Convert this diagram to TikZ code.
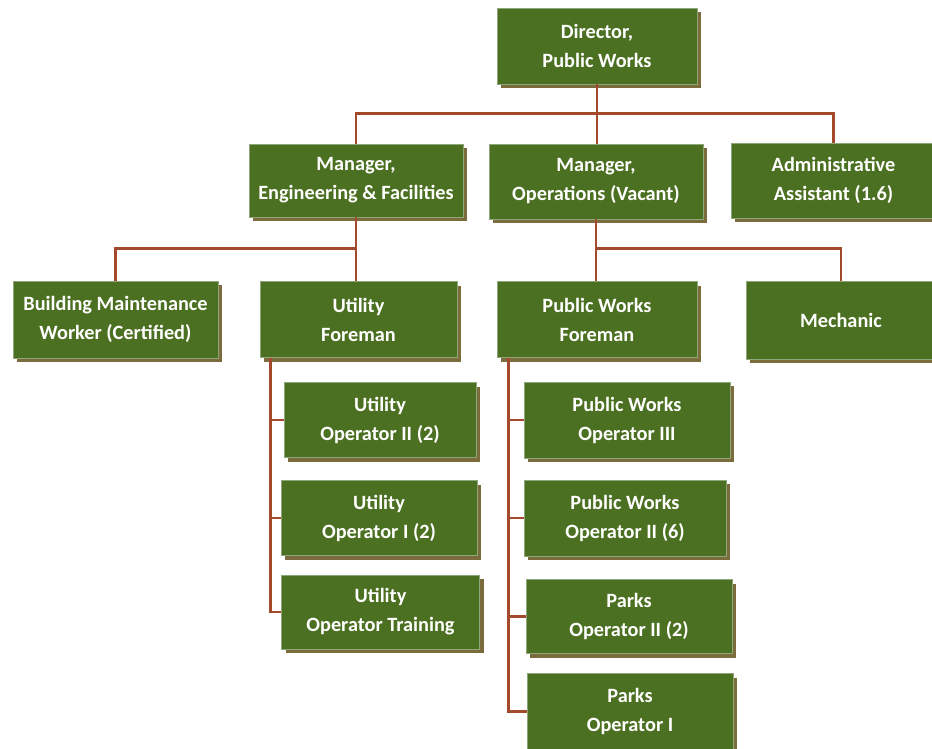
\documentclass[tikz,border=0pt]{standalone}
\usepackage{fontspec}
\setmainfont{Carlito}
\usetikzlibrary{shadows}
\definecolor{boxfill}{HTML}{4C7021}
\definecolor{boxedge}{HTML}{8FA67A}
\definecolor{shadowc}{HTML}{7B6B3D}
\definecolor{linec}{HTML}{A24A2B}
\tikzset{
  orgbox/.style={draw=boxedge, line width=0.8pt, fill=boxfill, text=white,
    font=\bfseries\fontsize{20.3}{29}\selectfont, align=center, inner sep=0pt,
    drop shadow={shadow xshift=4pt, shadow yshift=-4pt, fill=shadowc, opacity=1}},
  conn/.style={draw=linec, line width=2.4pt}
}
\begin{document}
\begin{tikzpicture}[x=1pt,y=-1pt]
\useasboundingbox (0,0) rectangle (932,749);
% nodes
\node[orgbox, minimum width=200pt, minimum height=76pt] (dir) at (597,46) {Director,\\Public Works};
\node[orgbox, minimum width=214pt, minimum height=73pt] (mef) at (356,180.5) {Manager,\\Engineering \& Facilities};
\node[orgbox, minimum width=214pt, minimum height=75pt] (mop) at (596,181.5) {Manager,\\Operations (Vacant)};
\node[orgbox, minimum width=205pt, minimum height=75pt] (adm) at (833.5,180.5) {Administrative\\Assistant (1.6)};
\node[orgbox, minimum width=205pt, minimum height=77pt] (bmw) at (115.5,319.5) {Building Maintenance\\Worker (Certified)};
\node[orgbox, minimum width=197pt, minimum height=76pt] (uf) at (358.5,319.5) {Utility\\Foreman};
\node[orgbox, minimum width=200pt, minimum height=76pt] (pwf) at (597,319.5) {Public Works\\Foreman};
\node[orgbox, minimum width=190pt, minimum height=78pt] (mech) at (841,320) {Mechanic};
\node[orgbox, minimum width=192pt, minimum height=75pt] (uo2) at (380,420) {Utility\\Operator II (2)};
\node[orgbox, minimum width=196pt, minimum height=75pt] (uo1) at (379,518) {Utility\\Operator I (2)};
\node[orgbox, minimum width=198pt, minimum height=74pt] (uot) at (380.5,612) {Utility\\Operator Training};
\node[orgbox, minimum width=206pt, minimum height=76pt] (pw3) at (627,420) {Public Works\\Operator III};
\node[orgbox, minimum width=202pt, minimum height=76pt] (pw2) at (625,518) {Public Works\\Operator II (6)};
\node[orgbox, minimum width=206pt, minimum height=74pt] (po2) at (629,616.5) {Parks\\Operator II (2)};
\node[orgbox, minimum width=206pt, minimum height=76pt] (po1) at (630,711.5) {Parks\\Operator I};
% connectors
\draw[conn] (dir.south) -- ++(0,29) coordinate (b1);
\draw[conn] (b1) -| (mef.north);
\draw[conn] (b1) -| (adm.north);
\draw[conn] (b1) -- (b1 |- mop.north);
\draw[conn] (mef.south) -- ++(0,31) coordinate (b2);
\draw[conn] (b2) -| (bmw.north);
\draw[conn] (b2) -- (uf.north -| b2);
\draw[conn] (mop.south) -- ++(0,29) coordinate (b3);
\draw[conn] (b3) -| (mech.north);
\draw[conn] (b3) -- (pwf.north -| b3);
\draw[conn] ([xshift=11pt]uf.south west) |- (uot.west);
\draw[conn] ([xshift=11pt]uf.south west) |- (uo1.west);
\draw[conn] ([xshift=11pt]uf.south west) |- (uo2.west);
\draw[conn] ([xshift=12pt]pwf.south west) |- (po1.west);
\draw[conn] ([xshift=12pt]pwf.south west) |- (po2.west);
\draw[conn] ([xshift=12pt]pwf.south west) |- (pw2.west);
\draw[conn] ([xshift=12pt]pwf.south west) |- (pw3.west);
\end{tikzpicture}
\end{document}
